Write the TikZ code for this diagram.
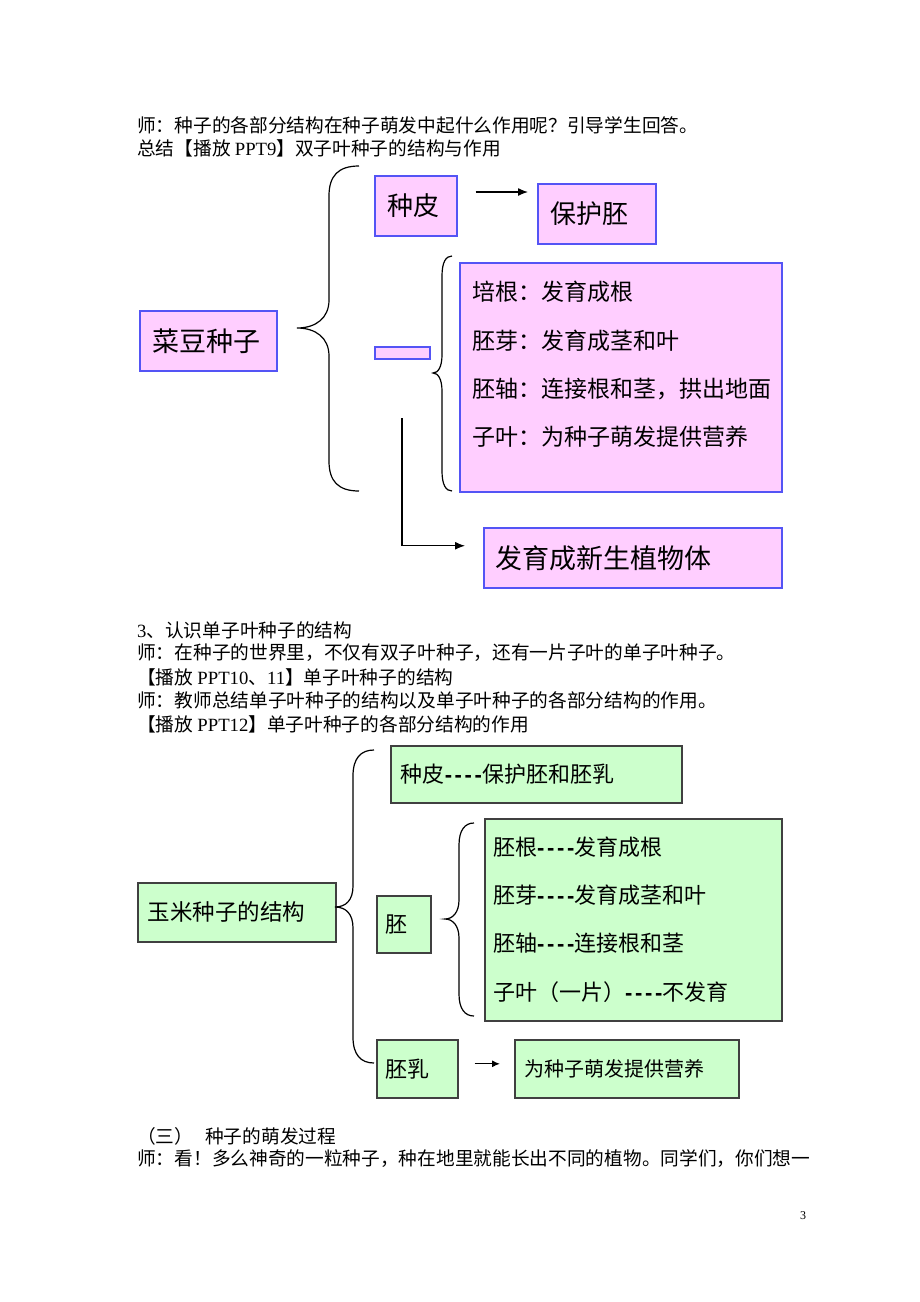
\documentclass[tikz,border=0pt]{standalone}
\usepackage{fontspec}
\setmainfont{Liberation Serif}
\newfontfamily\cjk{Noto Sans CJK SC}
\newfontfamily\dashfont{Liberation Sans}[LetterSpace=12]
\usetikzlibrary{arrows.meta}
\definecolor{pinkfill}{RGB}{255,206,255}
\definecolor{pinkline}{RGB}{84,84,245}
\definecolor{greenfill}{RGB}{204,255,204}
\definecolor{greenline}{RGB}{64,64,64}
\newcommand\fsz[1]{\fontsize{#1}{#1}\selectfont}
\newcommand\dsh{{\dashfont\bfseries ----}}
\begin{document}
\begin{tikzpicture}[x=1pt,y=-1pt,
  pbox/.style={draw=pinkline, fill=pinkfill, line width=1.5pt, anchor=north west, inner ysep=0pt, align=left, font=\cjk},
  gbox/.style={draw=greenline, fill=greenfill, line width=1.6pt, anchor=north west, inner ysep=0pt, align=left, font=\cjk},
  body/.style={anchor=west, inner sep=0pt, font=\cjk\fsz{18.7}},
  ptxt/.style={anchor=west, inner sep=0pt, font=\cjk\fsz{23}},
  gtxt/.style={anchor=west, inner sep=0pt, font=\cjk\fsz{22}},
  brace/.style={draw=black, line width=1.2pt},
  arr/.style={draw=black, line width=1.3pt, -{Latex[length=10pt,width=8pt]}}]
\useasboundingbox[fill=white] (0,0) rectangle (920,1302);

% ---- body text, top
\node[body] (t1) at (137,125) {师：种子的各部分结构在种子萌发中起什么作用呢？引导学生回答。};
\node[body] (t2) at (137,148) {总结【播放 {\rmfamily PPT9}】双子叶种子的结构与作用};

% ---- diagram 1
\node[pbox, minimum width=137pt, minimum height=60pt, text width=111pt, inner xsep=13pt, font=\cjk\fsz{27}] (cd) at (139,310) {菜豆种子};
\node[pbox, minimum width=82pt, minimum height=60pt, text width=56pt, inner xsep=13pt, font=\cjk\fsz{26}] (zp) at (374,175) {种皮};
\node[pbox, minimum width=118pt, minimum height=60pt, text width=92pt, inner xsep=13pt, font=\cjk\fsz{26}] (bh) at (537,183) {保护胚};
\node[pbox, minimum width=55pt, minimum height=12pt, inner sep=0pt] (pe) at (374,346) {};
\node[pbox, minimum width=322pt, minimum height=229pt, inner sep=0pt] (big1) at (459,262) {};
\node[ptxt] (l1) at (472,292) {培根：发育成根};
\node[ptxt] (l2) at (472,341) {胚芽：发育成茎和叶};
\node[ptxt] (l3) at (472,389) {胚轴：连接根和茎，拱出地面};
\node[ptxt] (l4) at (472,437) {子叶：为种子萌发提供营养};
\node[pbox, minimum width=298pt, minimum height=60pt, text width=274pt, inner xsep=12pt, font=\cjk\fsz{27}] (xs) at (483,527) {发育成新生植物体};

\path[brace] (359,166) .. controls (338,166) and (329,176) .. (329,196) -- (329,300)
  .. controls (329,318) and (316,328) .. (297,328)
  .. controls (316,328) and (329,338) .. (329,356) -- (329,461)
  .. controls (329,481) and (338,491) .. (359,491);
\path[brace] (452,256) .. controls (446,256) and (442,262) .. (442,276) -- (442,355)
  .. controls (442,367) and (438,373) .. (433,373)
  .. controls (438,373) and (442,379) .. (442,391) -- (442,471)
  .. controls (442,485) and (446,491) .. (452,491);

\coordinate (a1) at (0,192);
\draw[arr, shorten <=18pt, shorten >=9pt] (zp.east |- a1) -- (bh.west |- a1);
\coordinate (e1) at (402,418);
\draw[arr, shorten >=18pt] (e1) |- ([yshift=12pt]xs.west);

% ---- body text, middle
\node[body] (t3) at (137,630) {{\rmfamily 3}、认识单子叶种子的结构};
\node[body] (t4) at (137,653) {师：在种子的世界里，不仅有双子叶种子，还有一片子叶的单子叶种子。};
\node[body] (t5) at (137,677) {【播放 {\rmfamily PPT10}、{\rmfamily 11}】单子叶种子的结构};
\node[body] (t6) at (137,700) {师：教师总结单子叶种子的结构以及单子叶种子的各部分结构的作用。};
\node[body] (t7) at (137,724) {【播放 {\rmfamily PPT12}】单子叶种子的各部分结构的作用};

% ---- diagram 2
\node[gbox, minimum width=198pt, minimum height=59pt, text width=178pt, inner xsep=10pt, font=\cjk\fsz{22.5}] (ym) at (137,882) {玉米种子的结构};
\node[gbox, minimum width=291pt, minimum height=57pt, text width=271pt, inner xsep=10pt, font=\cjk\fsz{22}] (zp2) at (390,745) {种皮\dsh 保护胚和胚乳};
\node[gbox, minimum width=54pt, minimum height=57pt, text width=36pt, inner xsep=9pt, font=\cjk\fsz{22}] (pei) at (376,895) {胚};
\node[gbox, minimum width=297pt, minimum height=202pt, inner sep=0pt] (big2) at (484,818) {};
\node[gtxt] (g1) at (493,847) {胚根\dsh 发育成根};
\node[gtxt] (g2) at (493,895) {胚芽\dsh 发育成茎和叶};
\node[gtxt] (g3) at (493,943) {胚轴\dsh 连接根和茎};
\node[gtxt] (g4) at (493,992) {子叶（一片）\dsh 不发育};
\node[gbox, minimum width=81pt, minimum height=58pt, text width=63pt, inner xsep=9pt, font=\cjk\fsz{22}] (pr) at (376,1039) {胚乳};
\node[gbox, minimum width=224pt, minimum height=58pt, text width=204pt, inner xsep=10pt, font=\cjk\fsz{20}] (yy) at (514,1039) {为种子萌发提供营养};

\path[brace] (374,750) .. controls (361,750) and (353,758) .. (353,776) -- (353,886)
  .. controls (353,900) and (346,907) .. (335,907)
  .. controls (346,907) and (353,914) .. (353,928) -- (353,1037)
  .. controls (353,1055) and (361,1063) .. (374,1063);
\path[brace] (474,823) .. controls (465,823) and (459,830) .. (459,845) -- (459,900)
  .. controls (459,912) and (453,919) .. (445,919)
  .. controls (453,919) and (459,926) .. (459,938) -- (459,994)
  .. controls (459,1009) and (465,1016) .. (474,1016);

\draw[arr, -{Latex[length=8pt,width=7pt]}, shorten <=16pt, shorten >=14pt] ([yshift=5pt]pr.east) -- ([yshift=5pt]yy.west);

% ---- body text, bottom
\node[body] (t8) at (137,1136) {（三）};
\node[body] (t9) at (205,1136) {种子的萌发过程};
\node[body] (t10) at (137,1159) {师：看！多么神奇的一粒种子，种在地里就能长出不同的植物。同学们，你们想一};
\node[anchor=center, inner sep=0pt, font=\fsz{12}] (pg) at (803,1216) {3};
\end{tikzpicture}
\end{document}
